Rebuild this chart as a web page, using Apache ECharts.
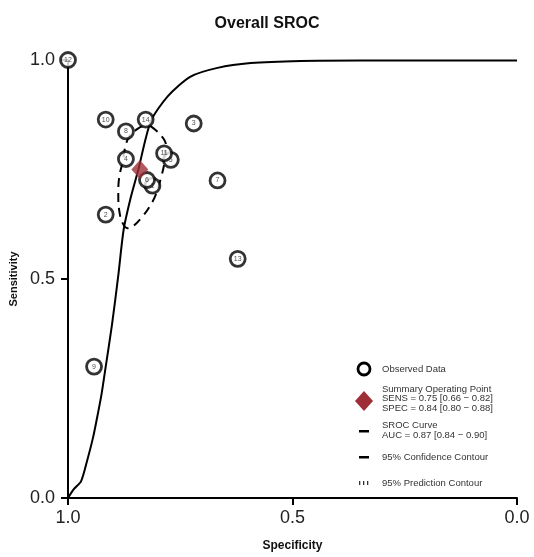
<!DOCTYPE html>
<html>
<head>
<meta charset="utf-8">
<script src="https://cdn.jsdelivr.net/npm/echarts@6/dist/echarts.min.js"></script>
<style>html,body{margin:0;padding:0;background:#fff;}#c{width:534px;height:557px;}</style>
</head>
<body>
<div id="c"></div>
<script>
// Observed studies: [specificity, sensitivity]
const studyLabels = ['12','10','14','8','3','4','5','11','1','6','7','2','13','9'];
const studySpec   = [1.000,0.916,0.827,0.871,0.720,0.871,0.771,0.786,0.812,0.824,0.667,0.916,0.622,0.942];
const studySens   = [1.000,0.864,0.864,0.837,0.855,0.774,0.772,0.787,0.713,0.726,0.725,0.647,0.546,0.300];

// Summary operating point
const summarySpec = 0.84;
const summarySens = 0.75;

// SROC curve points
const srocSpec = [1.000,0.987,0.971,0.958,0.944,0.933,0.925,0.916,0.902,0.888,0.876,0.860,0.844,0.816,0.778,0.727,0.667,0.593,0.482,0.349,0.000];
const srocSens = [0.000,0.020,0.038,0.083,0.139,0.195,0.239,0.300,0.396,0.508,0.613,0.687,0.747,0.859,0.917,0.962,0.982,0.993,0.998,0.999,0.999];

// 95% confidence contour points
const confSpec = [0.816,0.793,0.782,0.784,0.786,0.793,0.804,0.819,0.838,0.856,0.867,0.878,0.886,0.888,0.886,0.878,0.873,0.864,0.849,0.830,0.816];
const confSens = [0.849,0.828,0.806,0.784,0.761,0.731,0.694,0.664,0.638,0.620,0.616,0.627,0.657,0.694,0.732,0.769,0.799,0.825,0.840,0.849,0.849];

const legendTexts = ['Observed Data',
  'Summary Operating Point\nSENS = 0.75 [0.66 \u2212 0.82]\nSPEC = 0.84 [0.80 \u2212 0.88]',
  'SROC Curve\nAUC = 0.87 [0.84 \u2212 0.90]',
  '95% Confidence Contour',
  '95% Prediction Contour'];

const zip = (a, b) => a.map((v, i) => [v, b[i]]);
const chart = echarts.init(document.getElementById('c'), null, {renderer: 'canvas'});
const FONT = 'Liberation Sans, Arial, sans-serif';
const darkRed = '#9e2f37';
const legX = 364;
const textX = 382;
const tStyle = {fill: '#333', font: '9.5px ' + FONT, lineHeight: 9.5};

chart.setOption({
  animation: false,
  backgroundColor: '#fff',
  title: {
    text: 'Overall SROC', left: 'center', top: 11,
    textStyle: {fontFamily: FONT, fontSize: 16, fontWeight: 'bold', color: '#111'}
  },
  grid: {left: 67, right: 17, top: 60, bottom: 50},
  xAxis: {
    type: 'value', min: 0, max: 1, interval: 0.5, inverse: true, position: 'bottom',
    name: 'Specificity', nameLocation: 'middle', nameGap: 42,
    nameTextStyle: {fontFamily: FONT, fontSize: 12, fontWeight: 'bold', color: '#111'},
    axisLine: {show: true, onZero: false, lineStyle: {color: '#000', width: 2}},
    axisTick: {show: true, length: 7, lineStyle: {color: '#000', width: 2}},
    axisLabel: {fontFamily: FONT, fontSize: 18, color: '#222', margin: 11,
      formatter: v => v.toFixed(1)},
    splitLine: {show: false}
  },
  yAxis: {
    type: 'value', min: 0, max: 1, interval: 0.5, position: 'left',
    name: 'Sensitivity', nameLocation: 'middle', nameGap: 49,
    nameTextStyle: {fontFamily: FONT, fontSize: 11, fontWeight: 'bold', color: '#111'},
    axisLine: {show: true, onZero: false, lineStyle: {color: '#000', width: 2}},
    axisTick: {show: true, length: 7, lineStyle: {color: '#000', width: 2}},
    axisLabel: {fontFamily: FONT, fontSize: 18, color: '#222', margin: 13,
      formatter: v => v.toFixed(1)},
    splitLine: {show: false}
  },
  series: [
    {
      type: 'line', name: 'SROC', data: zip(srocSpec, srocSens), smooth: 0.25,
      showSymbol: false, symbol: 'none', clip: false,
      lineStyle: {color: '#000', width: 2}, z: 3
    },
    {
      type: 'line', name: 'Confidence', data: zip(confSpec, confSens), smooth: 0.4,
      showSymbol: false, symbol: 'none', clip: false,
      lineStyle: {color: '#000', width: 2, type: [9, 6]}, z: 3
    },
    {
      type: 'scatter', name: 'Observed', clip: false,
      data: studySpec.map((s, i) => ({value: [s, studySens[i]], name: studyLabels[i]})),
      symbol: 'circle', symbolSize: 15,
      itemStyle: {color: '#fff', borderColor: '#000', borderWidth: 2.8},
      label: {show: true, position: 'inside', formatter: p => p.name,
        fontFamily: FONT, fontSize: 7, color: '#222'},
      z: 5
    },
    {
      type: 'scatter', name: 'Summary', clip: false,
      data: [[summarySpec, summarySens]],
      symbol: 'diamond', symbolSize: [17, 19],
      itemStyle: {color: darkRed}, z: 6
    }
  ],
  graphic: [
    {type: 'circle', shape: {cx: legX, cy: 369, r: 6}, style: {fill: '#fff', stroke: '#000', lineWidth: 2.8}},
    {type: 'text', x: textX, y: 369, style: Object.assign({text: legendTexts[0], verticalAlign: 'middle'}, tStyle)},
    {type: 'polygon', shape: {points: [[legX, 391], [legX + 9, 401], [legX, 411], [legX - 9, 401]]}, style: {fill: darkRed}},
    {type: 'text', x: textX, y: 384.5, style: Object.assign({text: legendTexts[1], verticalAlign: 'top'}, tStyle)},
    {type: 'rect', shape: {x: legX - 5, y: 430, width: 10, height: 2.5}, style: {fill: '#000'}},
    {type: 'text', x: textX, y: 421, style: Object.assign({text: legendTexts[2], verticalAlign: 'top'}, tStyle)},
    {type: 'rect', shape: {x: legX - 5, y: 456, width: 10, height: 2.5}, style: {fill: '#000'}},
    {type: 'text', x: textX, y: 457, style: Object.assign({text: legendTexts[3], verticalAlign: 'middle'}, tStyle)},
    {type: 'rect', shape: {x: legX - 5, y: 481, width: 1.3, height: 4}, style: {fill: '#333'}},
    {type: 'rect', shape: {x: legX - 1, y: 481, width: 1.3, height: 4}, style: {fill: '#333'}},
    {type: 'rect', shape: {x: legX + 3, y: 481, width: 1.3, height: 4}, style: {fill: '#333'}},
    {type: 'text', x: textX, y: 483, style: Object.assign({text: legendTexts[4], verticalAlign: 'middle'}, tStyle)}
  ]
});
</script>
</body>
</html>
